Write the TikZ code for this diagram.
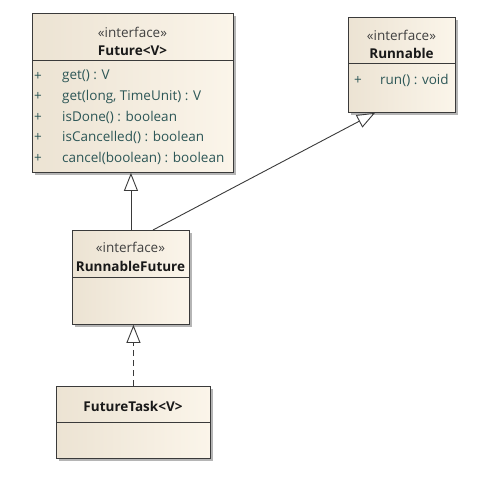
\documentclass[tikz,border=0pt]{standalone}
\usepackage{fontspec}
\setmainfont{Open Sans}
\usetikzlibrary{arrows.meta,calc,shadows}
\definecolor{umlline}{RGB}{58,58,58}
\definecolor{umlleft}{RGB}{236,227,211}
\definecolor{umlright}{RGB}{251,245,234}
\definecolor{umlop}{RGB}{44,86,86}
\definecolor{umlshadow}{RGB}{150,150,150}
\begin{document}
\begin{tikzpicture}[x=1pt,y=-1pt,
  classbox/.style={draw=umlline, line width=0.9pt, left color=umlleft, right color=umlright,
    inner sep=0pt, anchor=north west,
    drop shadow={shadow xshift=2.5pt, shadow yshift=-2.5pt, fill=umlshadow, opacity=0.7}},
  divider/.style={draw=umlline, line width=0.9pt},
  stereo/.style={font=\fontsize{13.5}{15}\selectfont, text=black!75, inner sep=0pt},
  cname/.style={font=\fontsize{13.5}{15}\selectfont\bfseries, text=black!90, inner sep=0pt},
  opplus/.style={font=\fontsize{13.5}{15}\selectfont, text=umlop, inner sep=0pt},
  optext/.style={font=\fontsize{13.5}{15}\selectfont, text=umlop, inner sep=0pt, anchor=west},
  realize/.style={draw=umlline, line width=0.9pt,
    -{Triangle[length=18pt, width=14pt, fill=white, line width=0.9pt]}},
  implement/.style={realize, dash pattern=on 6pt off 4pt}
]
\useasboundingbox (0,0) rectangle (480,480);

% Future<V>
\node[classbox, minimum width=201pt, minimum height=159pt] (future) at (32,13) {};
\draw[divider] (32,60) -- (233,60);
\node[stereo] (futurest) at (132.5,32) {«interface»};
\node[cname] (futurename) at (132.5,51) {Future<V>};
\node[opplus] (fp1) at (38,76) {+};
\node[optext] (fo1) at (62,76) {get() : V};
\node[opplus] (fp2) at (38,96.5) {+};
\node[optext] (fo2) at (62,96.5) {get(long, TimeUnit) : V};
\node[opplus] (fp3) at (38,117) {+};
\node[optext] (fo3) at (62,117) {isDone() : boolean};
\node[opplus] (fp4) at (38,137.5) {+};
\node[optext] (fo4) at (62,137.5) {isCancelled() : boolean};
\node[opplus] (fp5) at (38,158) {+};
\node[optext] (fo5) at (62,158) {cancel(boolean) : boolean};

% Runnable
\node[classbox, minimum width=107pt, minimum height=95pt] (runnable) at (348,17) {};
\draw[divider] (348,63) -- (455,63);
\node[stereo] (runst) at (401.5,35) {«interface»};
\node[cname] (runname) at (401.5,53) {Runnable};
\node[opplus] (rp1) at (358,80) {+};
\node[optext] (ro1) at (380,80) {run() : void};

% RunnableFuture
\node[classbox, minimum width=117pt, minimum height=94pt] (rf) at (72,230) {};
\draw[divider] (72,277) -- (189,277);
\node[stereo] (rfst) at (130.5,247) {«interface»};
\node[cname] (rfname) at (130.5,266) {RunnableFuture};

% FutureTask<V>
\node[classbox, minimum width=154pt, minimum height=72pt] (task) at (56,386) {};
\draw[divider] (56,422) -- (210,422);
\node[cname] (taskname) at (133,406) {FutureTask<V>};

% Relations
\draw[realize] (rf.north) -- (rf.north |- future.south);
\draw[realize] ($(rf.north west)+(81,0)$) -- ($(runnable.south west)+(27,0)$);
\draw[implement] (task.north) -- (task.north |- rf.south);
\end{tikzpicture}
\end{document}
